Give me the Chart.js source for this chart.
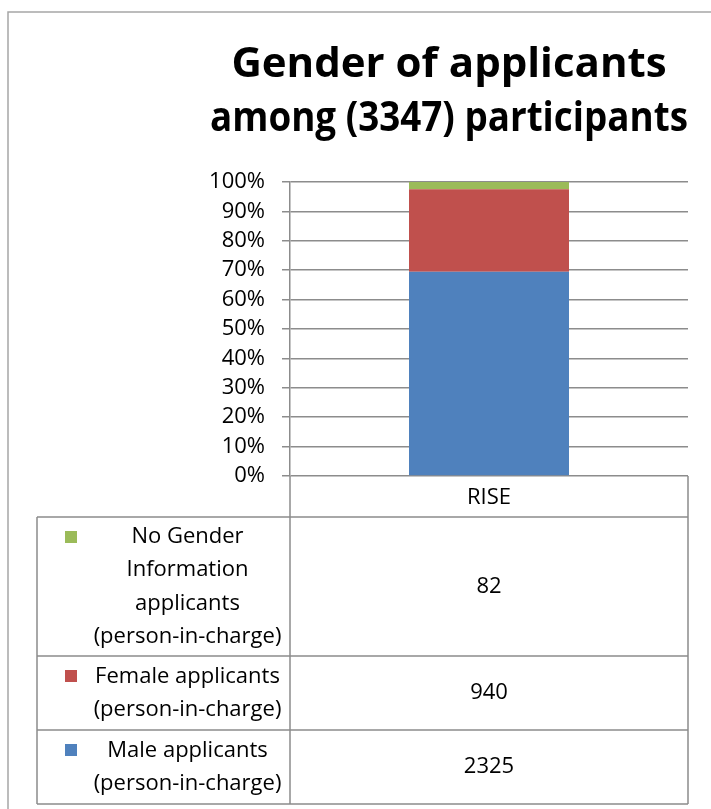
<!DOCTYPE html>
<html lang="en">
<head>
    <meta charset="UTF-8" />
    <title>Gender of applicants</title>
    <style>
        body {
            margin: 0;
            padding: 0;
            background-color: white;
        }

        #wrap {
            width: 711px;
            height: 809px;
        }
    </style>
    <script src="https://cdn.jsdelivr.net/npm/chart.js"></script>
</head>
<body>
    <div id="wrap">
        <canvas id="genderChart" width="711" height="809"></canvas>
    </div>

    <script>
    // data
    const categories = ['RISE'];
    const seriesNames = ['Male applicants', 'Female applicants', 'No Gender Information applicants'];
    const seriesValues = [2325, 940, 82];
    const seriesColors = ['#4F81BD', '#C0504D', '#9BBB59'];
    // legend text as it wraps in the data table (top row first)
    const tableLabels = [
      ['No Gender', 'Information', 'applicants', '(person-in-charge)'],
      ['Female applicants', '(person-in-charge)'],
      ['Male applicants', '(person-in-charge)']
    ];
    const yTicks = [0, 10, 20, 30, 40, 50, 60, 70, 80, 90, 100];

    const total = seriesValues.reduce((a, b) => a + b, 0);
    const lineColor = '#8c8c8c';
    const textFont = '22px "Open Sans", sans-serif';

    // outer frame and data table under the plot
    const tablePlugin = {
      id: 'dataTable',
      beforeDraw(chart) {
        const ctx = chart.ctx;
        ctx.save();
        ctx.fillStyle = 'white';
        ctx.fillRect(0, 0, chart.width, chart.height);
        ctx.strokeStyle = '#a6a6a6';
        ctx.lineWidth = 1.5;
        ctx.beginPath();
        ctx.moveTo(8, chart.height + 5);
        ctx.lineTo(8, 12);
        ctx.lineTo(chart.width + 5, 12);
        ctx.stroke();
        ctx.restore();
      },
      afterDraw(chart) {
        const ctx = chart.ctx;
        const area = chart.chartArea;
        const xScale = chart.scales.x;
        const left = 37;
        const keyRight = 85;
        const lineH = 33.5;
        const headerBottom = area.bottom + 41;

        ctx.save();
        ctx.strokeStyle = lineColor;
        ctx.lineWidth = 1.5;

        // row bounds, top to bottom
        const rows = [];
        let y = headerBottom;
        tableLabels.forEach(lines => {
          const h = lines.length * 32.5 + 9;
          rows.push({ top: y, bottom: y + h, lines: lines });
          y += h;
        });
        const bottom = y;

        ctx.beginPath();
        ctx.moveTo(area.left, area.bottom);
        ctx.lineTo(area.left, bottom);
        ctx.moveTo(area.right, area.bottom);
        ctx.lineTo(area.right, bottom);
        ctx.moveTo(left, headerBottom);
        ctx.lineTo(left, bottom);
        ctx.moveTo(left, headerBottom);
        ctx.lineTo(area.right, headerBottom);
        rows.forEach(r => {
          ctx.moveTo(left, r.bottom);
          ctx.lineTo(area.right, r.bottom);
        });
        ctx.stroke();

        ctx.font = textFont;
        ctx.fillStyle = '#000';
        ctx.textAlign = 'center';
        ctx.textBaseline = 'middle';
        const textX = (keyRight + area.left) / 2;
        const valueX = xScale.getPixelForValue(0);

        rows.forEach((r, i) => {
          // rows are listed top-down, datasets bottom-up
          const ds = chart.data.datasets.length - 1 - i;
          const h = r.bottom - r.top;
          const startY = r.top + (h - r.lines.length * lineH) / 2 + lineH / 2;
          r.lines.forEach((t, j) => ctx.fillText(t, textX, startY + j * lineH));

          ctx.fillStyle = chart.data.datasets[ds].backgroundColor;
          ctx.fillRect(65, r.top + 14, 12, 12);
          ctx.fillStyle = '#000';

          ctx.fillText(String(seriesValues[ds]), valueX, (r.top + r.bottom) / 2);
        });
        ctx.restore();
      }
    };

    new Chart(document.getElementById('genderChart'), {
      type: 'bar',
      data: {
        labels: categories,
        datasets: seriesNames.map((name, i) => ({
          label: name,
          data: [seriesValues[i] / total * 100],
          backgroundColor: seriesColors[i],
          borderWidth: 0,
          categoryPercentage: 1,
          barPercentage: 0.402
        }))
      },
      options: {
        responsive: false,
        animation: false,
        layout: {
          padding: { left: 210, right: 23, top: 0, bottom: 0 }
        },
        plugins: {
          legend: { display: false },
          tooltip: { enabled: false },
          title: {
            display: true,
            text: ['Gender of applicants', 'among (3347) participants'],
            color: '#000',
            font: { family: '"Open Sans", sans-serif', size: 42, weight: 'bold', lineHeight: 54 / 42 },
            padding: { top: 38, bottom: 36 }
          }
        },
        scales: {
          x: {
            stacked: true,
            grid: { display: false, drawTicks: false },
            border: { display: false },
            ticks: {
              color: '#000',
              font: { family: '"Open Sans", sans-serif', size: 22 },
              padding: 9
            },
            afterFit(scale) { scale.height = 333; }
          },
          y: {
            stacked: true,
            min: 0,
            max: 100,
            afterBuildTicks(scale) {
              scale.ticks = yTicks.map(v => ({ value: v }));
            },
            grid: { color: lineColor, lineWidth: 1.5, tickLength: 8 },
            border: { display: true, color: lineColor, width: 1.5 },
            ticks: {
              color: '#000',
              font: { family: '"Open Sans", sans-serif', size: 22 },
              padding: 17,
              callback: v => v + '%'
            },
            afterFit(scale) { scale.width = 80; }
          }
        }
      },
      plugins: [tablePlugin]
    });
    </script>
</body>
</html>
